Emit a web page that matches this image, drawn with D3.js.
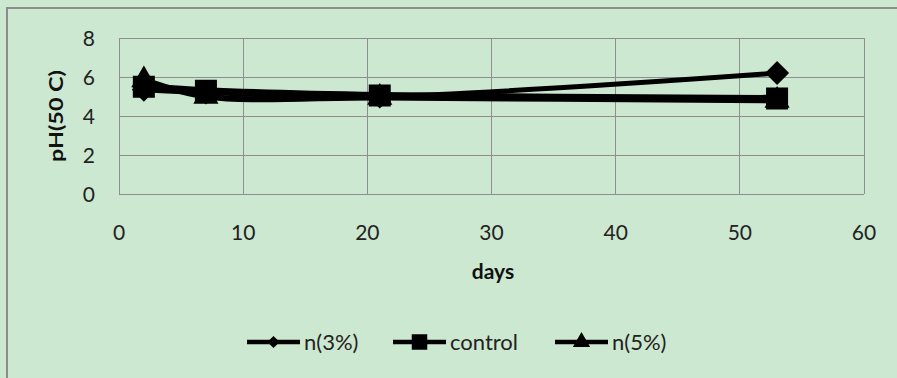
<!DOCTYPE html>
<html><head><meta charset="utf-8">
<script src="https://cdn.jsdelivr.net/npm/d3@7"></script>
<style>body{margin:0;background:#fff}svg{display:block}</style>
</head><body>
<svg id="c" width="897" height="378"></svg>
<script>
const days = [2, 7, 21, 53];
const n3 = [5.35, 5.2, 5.0, 6.2];
const control = [5.5, 5.3, 5.05, 4.9];
const n5 = [5.85, 5.0, 4.95, 4.8];
const seriesNames = ["n(3%)", "control", "n(5%)"];
const xTicks = [0, 10, 20, 30, 40, 50, 60];
const yTicks = [0, 2, 4, 6, 8];

const svg = d3.select("#c");
const font = "Lato, 'Open Sans', sans-serif";
svg.append("rect").attr("x",0).attr("y",0).attr("width",897).attr("height",378).attr("fill","#cde8d0");
svg.append("path").attr("d","M7,378V8H897").attr("fill","none").attr("stroke","#8c8c8c").attr("stroke-width",2);

const x = d3.scaleLinear().domain([0,60]).range([119,864]);
const y = d3.scaleLinear().domain([0,8]).range([194,38]);

const g = svg.append("g");
g.selectAll(".gx").data(xTicks).enter().append("line")
  .attr("x1",d=>x(d)).attr("x2",d=>x(d)).attr("y1",y(0)).attr("y2",y(8))
  .attr("stroke","#8e8e8e").attr("stroke-width",1).attr("shape-rendering","crispEdges");
g.selectAll(".gy").data(yTicks).enter().append("line")
  .attr("x1",x(0)).attr("x2",x(60)).attr("y1",d=>y(d)).attr("y2",d=>y(d))
  .attr("stroke","#8e8e8e").attr("stroke-width",1).attr("shape-rendering","crispEdges");

g.selectAll(".ty").data(yTicks).enter().append("text")
  .attr("x",95).attr("y",d=>y(d)).attr("dy","0.36em").attr("text-anchor","end")
  .attr("font-family",font).attr("font-size",21).attr("fill","#222").text(d=>d);
g.selectAll(".tx").data(xTicks).enter().append("text")
  .attr("x",d=>x(d)).attr("y",232).attr("dy","0.36em").attr("text-anchor","middle")
  .attr("font-family",font).attr("font-size",21).attr("fill","#222").text(d=>d);
svg.append("text").attr("x",493).attr("y",271).attr("dy","0.36em").attr("text-anchor","middle")
  .attr("font-family",font).attr("font-size",21).attr("font-weight","bold").attr("fill","#111").text("days");
svg.append("text").attr("transform","translate(56,116) rotate(-90)").attr("dy","0.36em").attr("text-anchor","middle")
  .attr("font-family",font).attr("font-size",19).attr("font-weight","bold").attr("fill","#111")
  .attr("textLength",92).attr("lengthAdjust","spacingAndGlyphs").text("pH(50 C)");

const diamond = {draw(ctx, size){const r=Math.sqrt(size)/2; ctx.moveTo(0,-r); ctx.lineTo(r,0); ctx.lineTo(0,r); ctx.lineTo(-r,0); ctx.closePath();}};
const data = [
  {name: seriesNames[0], vals: n3, sym: diamond, size: 480, lsize: 150, w: 5},
  {name: seriesNames[1], vals: control, sym: d3.symbolSquare, size: 420, lsize: 240, w: 7},
  {name: seriesNames[2], vals: n5, sym: d3.symbolTriangle, size: 220, lsize: 130, w: 6}
];
const line = d3.line().x(d=>x(d[0])).y(d=>y(d[1])).curve(d3.curveCatmullRom.alpha(0.5));
data.forEach(s=>{
  const pts = days.map((d,i)=>[d,s.vals[i]]);
  g.append("path").attr("d",line(pts)).attr("fill","none").attr("stroke","#000").attr("stroke-width",s.w).attr("stroke-linejoin","round");
});
data.forEach(s=>{
  const pts = days.map((d,i)=>[d,s.vals[i]]);
  g.selectAll(null).data(pts).enter().append("path")
    .attr("d",d3.symbol().type(s.sym).size(s.size))
    .attr("transform",d=>`translate(${x(d[0])},${y(d[1])})`)
    .attr("fill","#000").attr("stroke","#000").attr("stroke-width",1.5);
});

const lx = [247, 393, 555];
data.forEach((s,i)=>{
  const lg = svg.append("g").attr("transform",`translate(${lx[i]},342)`);
  lg.append("line").attr("x1",0).attr("x2",53).attr("y1",0).attr("y2",0).attr("stroke","#000").attr("stroke-width",4.5);
  lg.append("path").attr("d",d3.symbol().type(s.sym).size(s.lsize)).attr("transform","translate(26.5,0)").attr("fill","#000");
  lg.append("text").attr("x",57).attr("y",0).attr("dy","0.36em").attr("font-family",font).attr("font-size",22).attr("fill","#222").text(s.name);
});
</script>
</body></html>
